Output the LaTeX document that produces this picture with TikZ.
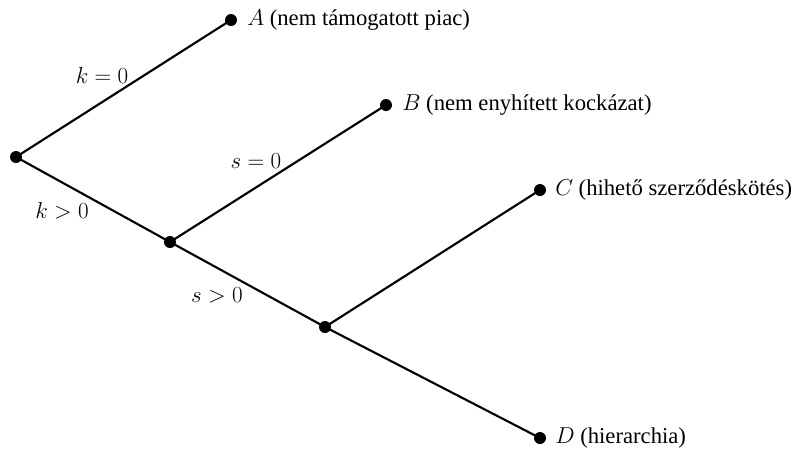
\documentclass[tikz,border=0pt]{standalone}
\usepackage{fontspec}
\setmainfont{Liberation Serif}
\begin{document}
\begin{tikzpicture}[x=0.75pt,y=-0.75pt,
  dot/.style={circle,fill=black,inner sep=0pt,minimum size=9pt},
  edge/.style={line width=1.6pt},
  lab/.style={anchor=west,inner sep=0pt,font=\fontsize{17}{19}\selectfont},
  elab/.style={inner sep=0pt,font=\fontsize{16}{18}\selectfont}]
\useasboundingbox (0,0) rectangle (794,455);
\node[dot] (r) at (16,157) {};
\node[dot] (a) at (231,20) {};
\node[dot] (b) at (386,105) {};
\node[dot] (c) at (540,190) {};
\node[dot] (m1) at (170,242) {};
\node[dot] (m2) at (325,327) {};
\node[dot] (d) at (540,438) {};
\draw[edge] (r.center) -- (a.center);
\draw[edge] (r.center) -- (m1.center);
\draw[edge] (m1.center) -- (b.center);
\draw[edge] (m1.center) -- (m2.center);
\draw[edge] (m2.center) -- (c.center);
\draw[edge] (m2.center) -- (d.center);
\node[lab] (la) at (247,20) {$A$ (nem támogatott piac)};
\node[lab] (lb) at (402,105) {$B$ (nem enyhített kockázat)};
\node[lab] (lc) at (555,190) {$C$ (hihető szerződéskötés)};
\node[lab] (ld) at (555,438) {$D$ (hierarchia)};
\node[elab] (k0) at (102,75) {$k=0$};
\node[elab] (k1) at (62,211) {$k>0$};
\node[elab] (s0) at (256,161) {$s=0$};
\node[elab] (s1) at (217,295) {$s>0$};
\end{tikzpicture}
\end{document}
